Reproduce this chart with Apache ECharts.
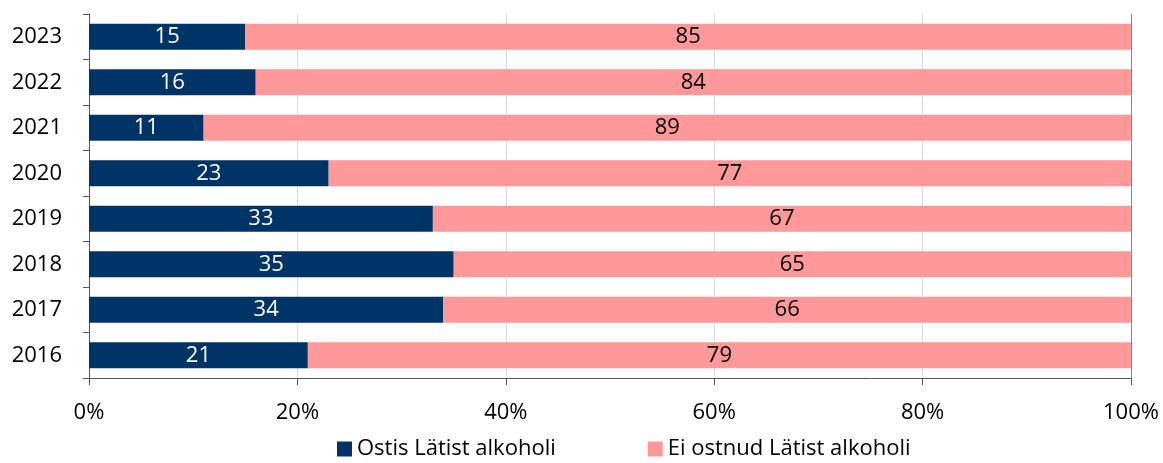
<!DOCTYPE html>
<html>
<head>
<meta charset="utf-8">
<script src="https://cdn.jsdelivr.net/npm/echarts@6/dist/echarts.min.js"></script>
<style>
  html, body { margin: 0; padding: 0; background: #fff; }
  #chart { width: 1163px; height: 463px; }
</style>
</head>
<body>
<div id="chart"></div>
<script>
// aastad alt üles
const years = ['2016', '2017', '2018', '2019', '2020', '2021', '2022', '2023']
const ostis = [21, 34, 35, 33, 23, 11, 16, 15]
const eiOstnud = [79, 66, 65, 67, 77, 89, 84, 85]
const xTicks = [0, 20, 40, 60, 80, 100]

const font = '"Open Sans", "Noto Sans", sans-serif'
const chart = echarts.init(document.getElementById('chart'))

chart.setOption({
    backgroundColor: '#fff',
    animation: false,
    textStyle: { fontFamily: font },
    legend: {
        bottom: -2,
        left: 332,
        itemWidth: 15,
        itemHeight: 15,
        itemGap: 92,
        icon: 'rect',
        textStyle: { fontSize: 22, color: '#000', fontFamily: font },
        data: ['Ostis Lätist alkoholi', 'Ei ostnud Lätist alkoholi']
    },
    grid: {
        left: 89,
        right: 32,
        top: 14,
        bottom: 85
    },
    xAxis: {
        type: 'value',
        min: 0,
        max: 100,
        interval: 20,
        axisLine: { show: true, lineStyle: { color: '#555', width: 1 } },
        axisTick: { show: true, length: 7, lineStyle: { color: '#555' } },
        axisLabel: {
            formatter: v => (xTicks.includes(v) ? v + '%' : ''),
            fontSize: 22,
            color: '#000',
            margin: 24
        },
        splitLine: {
            show: true,
            lineStyle: { color: ['#d9d9d9', '#d9d9d9', '#d9d9d9', '#d9d9d9', '#d9d9d9', '#888'] }
        }
    },
    yAxis: {
        type: 'category',
        data: years,
        axisLine: { show: true, lineStyle: { color: '#555', width: 1 } },
        axisTick: { show: true, length: 6, lineStyle: { color: '#555' } },
        axisLabel: { fontSize: 22, color: '#000', margin: 27 },
        splitLine: { show: false }
    },
    series: [
        {
            name: 'Ostis Lätist alkoholi',
            type: 'bar',
            stack: 'kokku',
            barWidth: '57%',
            itemStyle: { color: '#003366' },
            label: { show: true, position: 'inside', color: '#fff', fontSize: 22 },
            data: ostis
        },
        {
            name: 'Ei ostnud Lätist alkoholi',
            type: 'bar',
            stack: 'kokku',
            barWidth: '57%',
            itemStyle: { color: '#ff9999' },
            label: { show: true, position: 'inside', color: '#000', fontSize: 22 },
            data: eiOstnud
        }
    ]
})
</script>
</body>
</html>
